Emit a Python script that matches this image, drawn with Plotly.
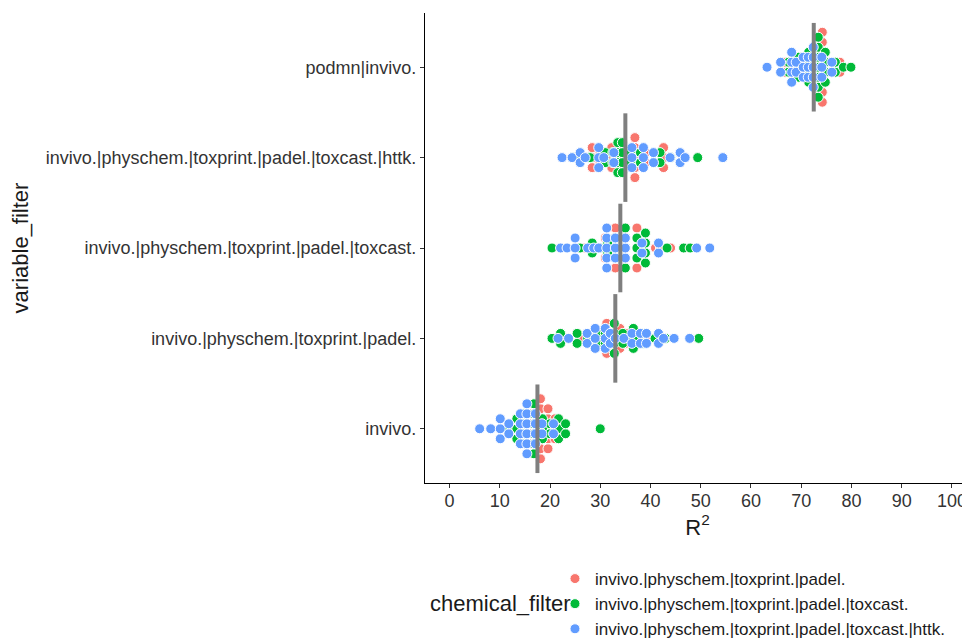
import numpy as np
import plotly.graph_objects as go

# ---------------- data ----------------
categories = [
    "invivo.",
    "invivo.|physchem.|toxprint.|padel.",
    "invivo.|physchem.|toxprint.|padel.|toxcast.",
    "invivo.|physchem.|toxprint.|padel.|toxcast.|httk.",
    "podmn|invivo.",
]
series_names = [
    "invivo.|physchem.|toxprint.|padel.",
    "invivo.|physchem.|toxprint.|padel.|toxcast.",
    "invivo.|physchem.|toxprint.|padel.|toxcast.|httk.",
]
series_colors = ["#F8766D", "#00BA38", "#619CFF"]

# R2 values per chemical_filter (series) and variable_filter (category)
red_invivo = [15.0, 15.0, 16.5, 16.5, 16.5, 16.5, 18.1, 18.1, 18.1, 18.1, 18.1, 18.1, 18.1,
              19.6, 19.6, 19.6, 19.6, 19.6, 21.0, 21.0, 21.0, 22.5, 22.5]
green_invivo = [11.5, 13.4, 13.4, 13.4, 15.0, 15.0, 15.0, 15.0, 16.8, 16.8, 16.8, 16.8, 16.8, 16.8,
                18.5, 18.5, 18.5, 20.0, 20.0, 21.7, 21.7, 21.7, 23.1, 23.1, 30.0]
blue_invivo = [6.0, 8.2, 10.1, 10.1, 10.1, 11.8, 11.8, 14.1, 14.1, 14.1, 14.1, 15.4, 15.4, 15.4,
               15.4, 15.4, 15.4, 17.1, 17.1, 17.1, 17.1, 18.4, 18.4, 20.7, 20.7]

red_padel = [26.4, 28.5, 29.5, 30.0, 31.3, 31.3, 31.3, 31.3, 32.3, 32.3, 33.9, 33.9, 33.9,
             35.0, 35.0, 36.0, 37.0, 39.0, 41.0]
green_padel = [20.4, 22.1, 22.1, 25.4, 25.4, 27.5, 29.5, 29.5, 31.0, 31.0, 32.8, 32.8, 32.8, 32.8,
               34.5, 34.5, 36.6, 36.6, 36.6, 38.5, 38.5, 40.9, 43.0, 49.6]
blue_padel = [21.6, 23.7, 27.4, 27.4, 29.0, 29.0, 29.0, 31.0, 31.0, 31.0, 32.0, 32.0, 33.0, 34.7,
              36.3, 36.3, 38.0, 38.0, 39.2, 39.2, 41.6, 41.6, 42.6, 44.7, 47.8]

red_toxcast = [25.5, 27.0, 29.0, 31.0, 31.0, 31.0, 33.0, 33.0, 33.0, 33.0, 33.0, 35.0, 35.0, 35.0,
               37.3, 37.3, 37.3, 37.3, 37.3, 39.0, 39.0, 41.0, 42.0, 44.0]
green_toxcast = [20.4, 26.0, 28.4, 28.4, 30.0, 31.5, 31.5, 33.0, 33.0, 33.0, 35.0, 35.0, 35.0, 35.0,
                 35.0, 37.3, 37.3, 37.3, 39.0, 39.0, 39.0, 39.0, 43.3, 46.6, 47.9]
blue_toxcast = [22.1, 23.4, 25.0, 25.0, 25.0, 27.5, 28.7, 29.7, 31.3, 31.3, 31.3, 31.3, 31.3,
                33.0, 33.0, 33.0, 35.0, 35.0, 35.0, 38.3, 38.3, 41.6, 41.6, 49.2, 51.8]

red_httk = [25.5, 27.0, 28.4, 28.4, 28.4, 30.0, 30.0, 32.3, 32.3, 32.3, 34.0, 34.0, 34.0, 35.5, 35.5,
            36.9, 36.9, 36.9, 36.9, 36.9, 39.0, 39.0, 42.6, 42.6, 42.6]
green_httk = [24.5, 26.0, 28.0, 30.0, 31.0, 31.0, 32.5, 32.5, 33.5, 33.5, 33.5, 33.5, 34.4, 34.4,
              34.4, 34.4, 36.0, 36.0, 38.0, 38.0, 41.9, 41.9, 44.0, 49.4]
blue_httk = [22.4, 24.4, 26.0, 26.0, 27.0, 29.7, 29.7, 29.7, 30.7, 32.7, 32.7, 36.3, 36.3, 36.3,
             38.6, 38.6, 38.6, 40.6, 40.6, 43.9, 45.9, 45.9, 46.9, 54.4]

red_podmn = [66.8, 66.8, 69.0, 69.0, 69.0, 71.0, 71.0, 71.0, 72.8, 72.8, 72.8, 72.8, 72.8,
             74.2, 74.2, 74.2, 74.2, 74.2, 74.2, 74.2, 74.2, 76.0, 76.0, 77.7, 77.7]
green_podmn = [67.5, 67.5, 69.5, 69.5, 69.5, 71.5, 71.5, 71.5, 71.5, 73.4, 73.4, 73.4, 73.4, 73.4,
               73.4, 73.4, 74.8, 74.8, 74.8, 74.8, 76.8, 76.8, 78.4, 79.9]
blue_podmn = [63.2, 65.9, 65.9, 68.1, 68.1, 68.1, 68.1, 69.0, 69.0, 70.4, 70.4, 70.4, 71.4, 71.4,
              71.4, 72.4, 72.4, 72.4, 72.4, 72.4, 74.1, 74.1, 74.1, 76.1, 76.1]

median_r2 = [17.5, 33.0, 34.0, 35.0, 72.5]

x_ticks = [0, 10, 20, 30, 40, 50, 60, 70, 80, 90, 100]

series_values = [
    [red_invivo, red_padel, red_toxcast, red_httk, red_podmn],
    [green_invivo, green_padel, green_toxcast, green_httk, green_podmn],
    [blue_invivo, blue_padel, blue_toxcast, blue_httk, blue_podmn],
]

# ---------------- layout of the swarm (centered stacking) ----------------
STEP = 0.1106  # vertical spacing of stacked points, in category units


def swarm(values, center):
    v = np.asarray(values, dtype=float)
    keys = np.round(v, 1)
    y = np.zeros(len(v))
    for k in np.unique(keys):
        idx = np.where(keys == k)[0]
        n = len(idx)
        y[idx] = center + (np.arange(n) - (n - 1) / 2.0) * STEP
    return v, y


fig = go.Figure()
for name, color, per_cat in zip(series_names, series_colors, series_values):
    xs, ys = [], []
    for ci, vals in enumerate(per_cat):
        vx, vy = swarm(vals, ci)
        xs.extend(vx.tolist())
        ys.extend(vy.tolist())
    fig.add_trace(go.Scatter(
        x=xs, y=ys, mode="markers", name=name, legendgroup=name,
        marker=dict(color=color, size=10, line=dict(color="white", width=1)),
        hoverinfo="x+name",
    ))

# median lines
mx, my = [], []
for ci, m in enumerate(median_r2):
    mx += [m, m, None]
    my += [ci - 0.49, ci + 0.49, None]
fig.add_trace(go.Scatter(x=mx, y=my, mode="lines", showlegend=False,
                         line=dict(color="#7F7F7F", width=4), hoverinfo="skip"))

axis_common = dict(showline=True, linecolor="black", linewidth=1.2, ticks="outside",
                   ticklen=4, tickcolor="#333333", tickwidth=1.1, showgrid=False,
                   zeroline=False, automargin=False,
                   tickfont=dict(size=18, color="#333333"))

fig.update_layout(
    width=970, height=638,
    margin=dict(l=417, r=8, t=5, b=163, autoexpand=False),
    paper_bgcolor="white", plot_bgcolor="white",
    font=dict(family="Liberation Sans, Arial, sans-serif", color="#1a1a1a"),
    xaxis=dict(range=[-4.88, 103.6], tickvals=x_ticks, ticklabelstandoff=-3,
               title=dict(text="R<sup>2</sup>", font=dict(size=22, color="#1a1a1a"), standoff=9),
               **axis_common),
    yaxis=dict(range=[-0.6, 4.6], tickvals=list(range(len(categories))), ticktext=categories,
               title=dict(text="variable_filter", font=dict(size=22, color="#1a1a1a"), standoff=11),
               **axis_common),
    legend=dict(x=0.2385, y=-0.166, xanchor="left", yanchor="top",
                font=dict(size=17, color="#1a1a1a"), tracegroupgap=0,
                bgcolor="rgba(0,0,0,0)"),
    annotations=[dict(text="chemical_filter", xref="paper", yref="paper",
                      x=0.2716, y=-0.2574, xanchor="right", yanchor="middle",
                      showarrow=False, font=dict(size=22, color="#1a1a1a"))],
)

fig.write_html("out.html")
